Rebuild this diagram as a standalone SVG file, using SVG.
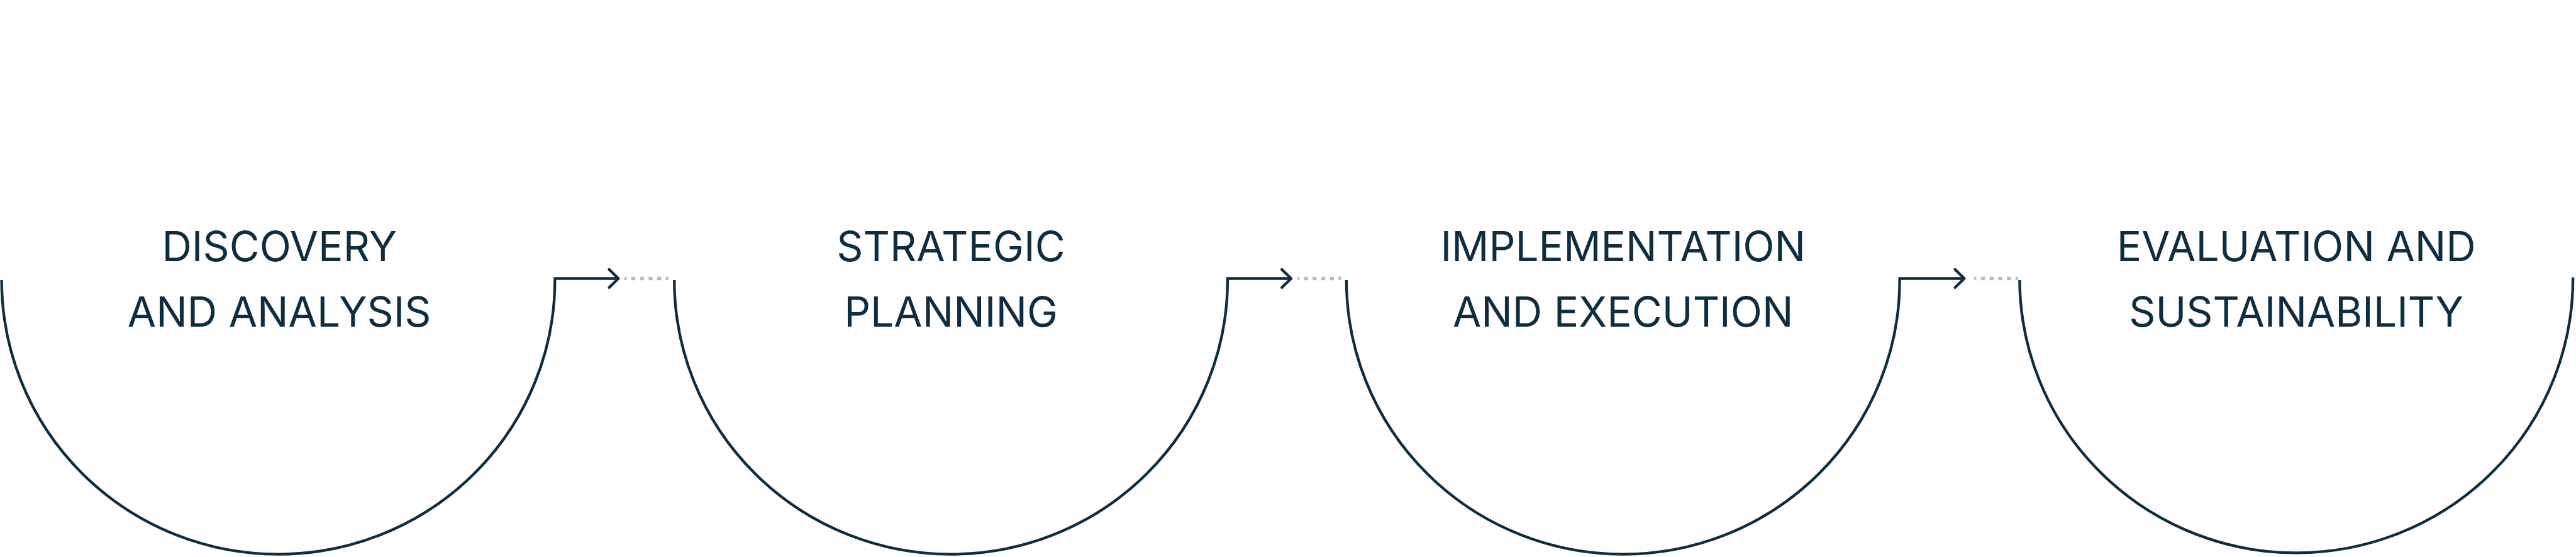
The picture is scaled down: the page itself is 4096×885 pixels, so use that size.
<svg xmlns="http://www.w3.org/2000/svg" width="4096" height="885" viewBox="0 0 4096 885">
<style>
.arc{fill:none;stroke:#0f2d40;stroke-width:5}
.conn{fill:none;stroke:#0f2d40;stroke-width:5;stroke-linejoin:miter}
.head{fill:none;stroke:#0f2d40;stroke-width:5;stroke-linecap:round;stroke-linejoin:round}
.dots{fill:none;stroke:#b3bec4;stroke-width:6.5;stroke-dasharray:7.5 8.3}
.lbl{font-family:Inter,"Liberation Sans",sans-serif;font-size:75.5px;fill:#0f2d40;text-anchor:middle}
</style>
<rect width="4096" height="885" fill="#ffffff"/>
<g transform="scale(0.871)">
<g id="node-discovery">
<path class="arc" d="M3 511 A505 500 0 0 0 1013 511"/>
<text class="lbl" x="510" y="476">DISCOVERY</text>
<text class="lbl" x="510" y="596">AND ANALYSIS</text>
</g>
<g id="node-strategic">
<path class="arc" d="M1231 511 A505 500 0 0 0 2241 511"/>
<text class="lbl" x="1736" y="476">STRATEGIC</text>
<text class="lbl" x="1736" y="596">PLANNING</text>
</g>
<g id="node-implementation">
<path class="arc" d="M2458 511 A505 500 0 0 0 3468 511"/>
<text class="lbl" x="2963" y="476">IMPLEMENTATION</text>
<text class="lbl" x="2963" y="596">AND EXECUTION</text>
</g>
<g id="node-evaluation">
<path class="arc" d="M3687 511 A505 500 0 0 0 4697 506"/>
<text class="lbl" x="4192" y="476">EVALUATION AND</text>
<text class="lbl" x="4192" y="596">SUSTAINABILITY</text>
</g>
<g id="connectors">
<path class="conn" d="M1013 511 L1013 508 L1129 508"/>
<path class="head" d="M1112 491.5 L1129 508 L1112 524.5"/>
<line class="dots" x1="1140" y1="508" x2="1220" y2="508" stroke-dashoffset="3.5"/>
<path class="conn" d="M2241 511 L2241 508 L2357 508"/>
<path class="head" d="M2340 491.5 L2357 508 L2340 524.5"/>
<line class="dots" x1="2368" y1="508" x2="2448" y2="508" stroke-dashoffset="3.5"/>
<path class="conn" d="M3468 511 L3468 508 L3586 508"/>
<path class="head" d="M3569 491.5 L3586 508 L3569 524.5"/>
<line class="dots" x1="3604" y1="508" x2="3684" y2="508" stroke-dashoffset="3.5"/>
</g>
</g>
</svg>
